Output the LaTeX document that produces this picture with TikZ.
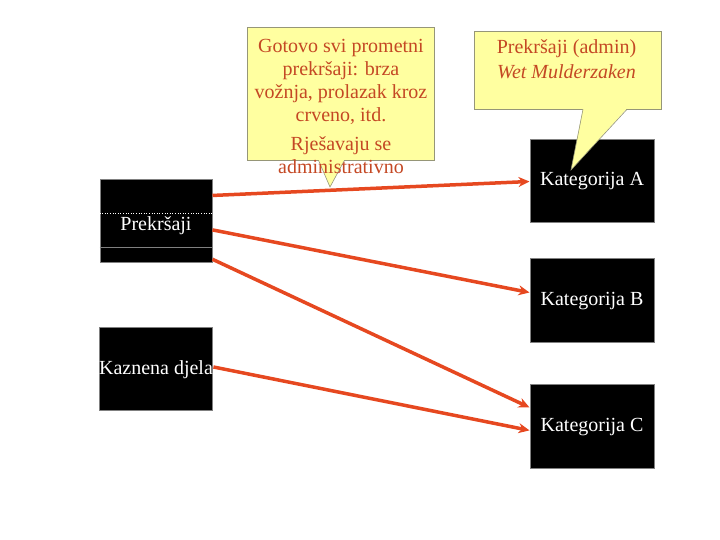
\documentclass[tikz,border=0pt]{standalone}
\usepackage{fontspec}
\setmainfont{Liberation Serif}
\usetikzlibrary{positioning,arrows.meta,calc}
\definecolor{linkred}{RGB}{230,72,32}
\definecolor{notetext}{RGB}{196,72,36}
\definecolor{notefill}{RGB}{255,255,160}
\definecolor{noteline}{RGB}{150,150,120}

\begin{document}
\begin{tikzpicture}[x=1pt, y=1pt,
	box/.style= {rectangle, fill=black, draw=gray, line width=1pt, inner sep=0pt, text=white,
		font=\fontsize{20}{23}\selectfont},
	note/.style= {rectangle, fill=notefill, draw=noteline, line width=0.6pt},
	notetxt/.style= {text=notetext, align=center, font=\fontsize{20}{23}\selectfont},
	link/.style= {draw=linkred, line width=3.5pt, -{Stealth[length=11pt,width=10pt]}}]
		\useasboundingbox (0,0) rectangle (720,540);

		\node[box, minimum width=112pt, minimum height=83pt, text height=19pt, text depth=0pt] (prek) at (156,318.5) {Prekršaji};
		\node[box, minimum width=112pt, minimum height=83pt] (kaz) [below=64pt of prek] {Kaznena djela};
		\node[box, minimum width=124pt, minimum height=83pt] (katA) at (592,358.5) {Kategorija A};
		\node[box, minimum width=124pt, minimum height=84pt] (katB) [below=35pt of katA] {Kategorija B};
		\node[box, minimum width=124pt, minimum height=84pt] (katC) [below=41pt of katB] {Kategorija C};

		\draw[white, dotted, line width=0.6pt] ($(prek.north west)!0.4!(prek.south west)$) -- ($(prek.north east)!0.4!(prek.south east)$);
		\draw[gray, line width=0.8pt] ($(prek.north west)!0.807!(prek.south west)$) -- ($(prek.north east)!0.807!(prek.south east)$);

		% speech bubbles
		\node[note, minimum width=187pt, minimum height=133pt] (note1) at (340.5,446.5) {};
		\node[note, minimum width=187pt, minimum height=78pt] (note2) at (567.5,470) {};
		\coordinate (tip1) at (330,353);
		\coordinate (tip2) at (571,370);
		\coordinate (a1) at ($(note1.south)+(-22,0.8)$);
		\coordinate (b1) at ($(note1.south)+(4,0.8)$);
		\coordinate (a2) at ($(note2.south)+(15.5,0.8)$);
		\coordinate (b2) at ($(note2.south)+(59.5,0.8)$);
		\fill[notefill] (a1) -- (tip1) -- (b1) -- cycle;
		\fill[notefill] (a2) -- (tip2) -- (b2) -- cycle;
		\draw[noteline, line width=0.6pt] ($(a1)+(0,-0.8)$) -- (tip1) -- ($(b1)+(0,-0.8)$);
		\draw[noteline, line width=0.6pt] ($(a2)+(0,-0.8)$) -- (tip2) -- ($(b2)+(0,-0.8)$);

		\node[notetxt] (txt1) at (341,434) {Gotovo svi prometni\\ prekršaji: brza\\ vožnja, prolazak kroz\\ crveno, itd.\\[6pt] Rješavaju se\\ administrativno};
		\node[notetxt] (txt2) at (566.5,480.5) {Prekršaji (admin)\\[2pt] \textit{Wet Mulderzaken}};

		\draw[link] ($(prek.north east)!0.19!(prek.south east)$) -- (katA.west);
		\draw[link] ($(prek.north east)!0.6!(prek.south east)$) -- ($(katB.north west)!0.4!(katB.south west)$);
		\draw[link] ($(prek.north east)!0.95!(prek.south east)$) -- ($(katC.north west)!0.27!(katC.south west)$);
		\draw[link] ($(kaz.north east)!0.47!(kaz.south east)$) -- ($(katC.north west)!0.54!(katC.south west)$);
\end{tikzpicture}
\end{document}
